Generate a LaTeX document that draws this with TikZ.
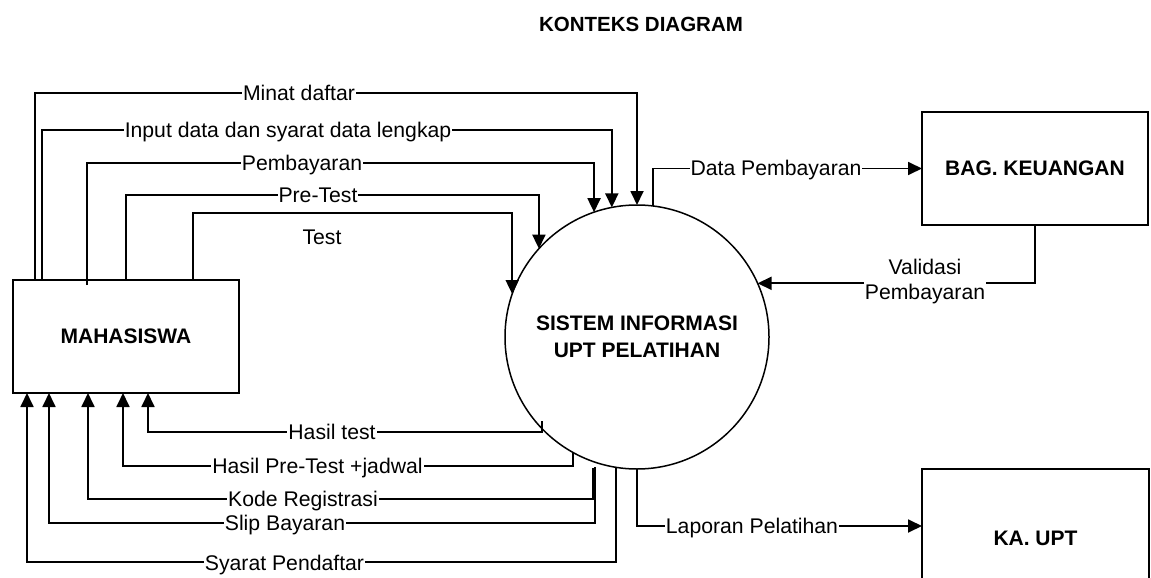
\documentclass[tikz,border=0pt]{standalone}
\usepackage{fontspec}
\setmainfont{Liberation Sans}
\usetikzlibrary{arrows.meta}
\begin{document}
\begin{tikzpicture}[x=1pt,y=-1pt,
  flow/.style={line width=1.8pt, -{Triangle[width=13pt,length=14pt]}},
  lbl/.style={fill=white, inner xsep=1pt, inner ysep=1pt, anchor=base, font=\fontsize{21.2}{25}\selectfont},
  ent/.style={draw, line width=1.8pt, rectangle, inner sep=0pt, outer sep=0pt, font=\fontsize{21}{25}\selectfont\bfseries},
  proc/.style={draw, circle, line width=1.5pt, minimum size=264pt, inner sep=0pt, outer sep=0pt, align=center, font=\fontsize{21}{27}\selectfont\bfseries},
]
\useasboundingbox (0,0) rectangle (1151,578);

% title
\node[font=\fontsize{20.5}{24}\selectfont\bfseries] (title) at (641,24) {KONTEKS DIAGRAM};

% entities and process
\node[ent, minimum width=226.6pt, minimum height=113pt] (mhs) at (126,336.5) {MAHASISWA};
\node[proc] (sys) at (637,337) {SISTEM INFORMASI\\UPT PELATIHAN};
\node[ent, minimum width=226pt, minimum height=113pt] (bag) at (1035,168.5) {BAG. KEUANGAN};
\node[ent, minimum width=227pt, minimum height=138pt] (ka) at (1035.5,538) {KA. UPT};

% free ends at the process (bottom stubs)
\coordinate (ht) at (542,421);
\coordinate (hp) at (573,453);
\coordinate (kr) at (593,468);
\coordinate (sb) at (595,467);

% flows MAHASISWA -> SISTEM
\draw[flow] ([xshift=22.3pt]mhs.north west) -- ++(0,-187) -| (sys.north);
\draw[flow] ([xshift=29.3pt]mhs.north west) -- ++(0,-150) -| (sys.101.8);
\draw[flow] ([xshift=74.3pt,yshift=-5pt]mhs.north west) -- ++(0,-122) -| (sys.109.9);
\draw[flow] ([xshift=113.3pt]mhs.north west) -- ++(0,-85) -| (sys.138.6);
\draw[flow] ([xshift=180.3pt]mhs.north west) -- ++(0,-67) -| (sys.161.3);

% flows SISTEM -> MAHASISWA
\draw[flow] (ht) -- ++(0,11) -| ([xshift=135.3pt]mhs.south west);
\draw[flow] (hp) -- ++(0,13) -| ([xshift=110.3pt]mhs.south west);
\draw[flow] (kr) -- ++(0,31) -| ([xshift=75.3pt]mhs.south west);
\draw[flow] (sb) -- ++(0,56) -| ([xshift=36.3pt]mhs.south west);
\draw[flow] (sys.261.7) -- ++(0,95) -| ([xshift=14.3pt]mhs.south west);

% flows with BAG. KEUANGAN and KA. UPT
\draw[flow] (sys.83.5) |- (bag.west);
\draw[flow] (bag.south) |- (sys.24.6);
\draw[flow] (sys.south) |- ([yshift=12pt]ka.west);

% labels
\node[lbl] (l1) at (299,100.5) {Minat daftar};
\node[lbl] (l2) at (288,137.5) {Input data dan syarat data lengkap};
\node[lbl] (l3) at (302,170.5) {Pembayaran};
\node[lbl] (l4) at (318,202.5) {Pre-Test};
\node[lbl] (l5) at (322,244.5) {Test};
\node[lbl] (l6) at (776,175.5) {Data Pembayaran};
\node[lbl, align=center, anchor=center] (l7) at (925,282) {Validasi\\Pembayaran};
\node[lbl] (l8) at (332,439.5) {Hasil test};
\node[lbl] (l9) at (317.5,473.5) {Hasil Pre-Test +jadwal};
\node[lbl] (l10) at (303,506.5) {Kode Registrasi};
\node[lbl] (l11) at (285,530.5) {Slip Bayaran};
\node[lbl] (l12) at (284.5,570.5) {Syarat Pendaftar};
\node[lbl] (l13) at (752,533.5) {Laporan Pelatihan};
\end{tikzpicture}
\end{document}
